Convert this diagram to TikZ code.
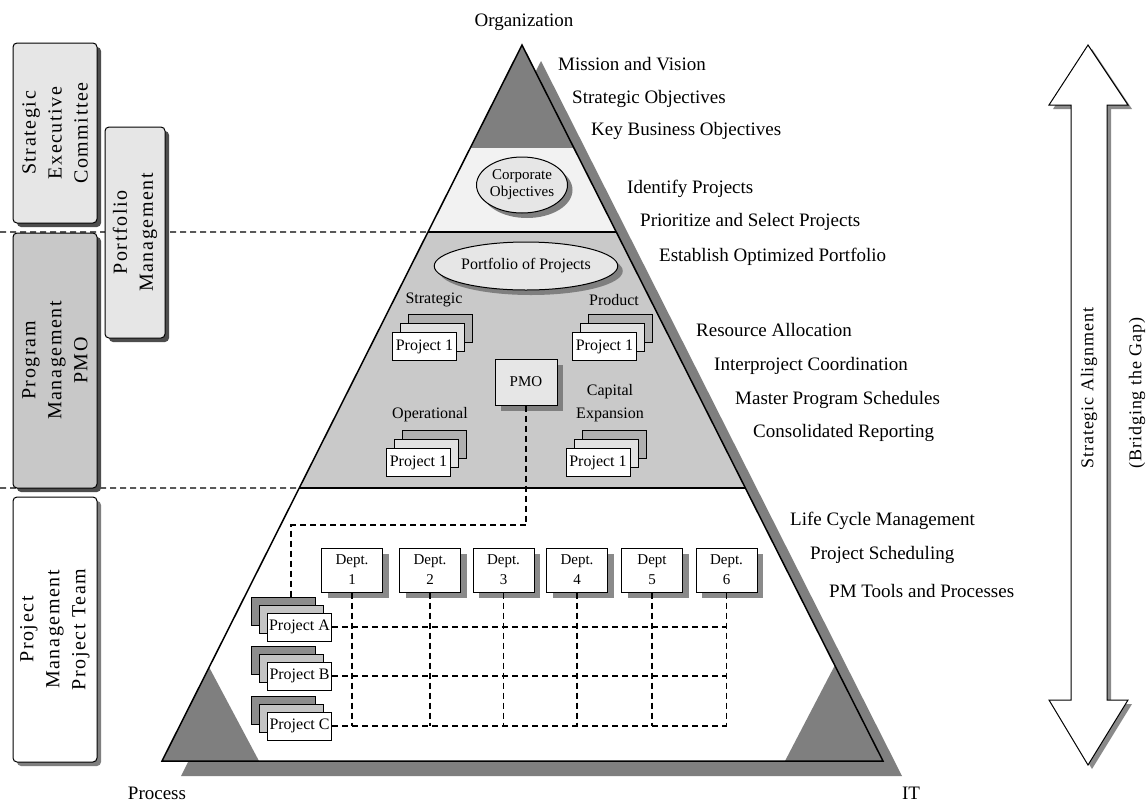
\documentclass[tikz,border=0pt]{standalone}
\usepackage{fontspec}
\setmainfont{Liberation Serif}
\usetikzlibrary{shapes.geometric,shadows,calc}

\definecolor{darkgrey}{HTML}{7F7F7F}
\definecolor{bandlight}{HTML}{F2F2F2}
\definecolor{bandmid}{HTML}{C9C9C9}
\definecolor{boxlight}{HTML}{E6E6E6}
\definecolor{boxmid}{HTML}{C8C8C8}
\definecolor{shade}{HTML}{4D4D4D}
\definecolor{softshade}{HTML}{8A8A8A}
\definecolor{cardback}{HTML}{B0B0B0}
\definecolor{cardmid}{HTML}{E2E2E2}
\definecolor{cardbackdark}{HTML}{8C8C8C}
\definecolor{cardmiddark}{HTML}{C4C4C4}

\tikzset{
  txt/.style={font=\fontsize{19}{22}\selectfont, inner sep=0pt},
  smalltxt/.style={font=\fontsize{16}{18}\selectfont, inner sep=0pt, align=center},
  sidebox/.style={draw, line width=1pt, rounded corners=4pt, inner sep=0pt},
  sidelabel/.style={rotate=90, align=center, inner sep=0pt,
    font=\fontsize{20}{26}\selectfont\addfontfeatures{LetterSpace=8}},
  dashline/.style={dash pattern=on 6pt off 4pt, line width=1.2pt},
  card/.style={draw, line width=1pt, minimum width=64pt, minimum height=28pt,
    inner sep=0pt, font=\fontsize{16}{18}\selectfont},
  deptbox/.style={draw, line width=1pt, fill=white, minimum width=61pt, minimum height=44pt,
    inner sep=0pt, align=center, font=\fontsize{15}{20}\selectfont,
    drop shadow={shadow xshift=6pt, shadow yshift=-6pt, fill=softshade, opacity=1}},
  oval/.style={ellipse, draw, line width=1pt, fill=boxlight, inner sep=0pt, align=center,
    font=\fontsize{15}{17}\selectfont,
    drop shadow={shadow xshift=5pt, shadow yshift=-5pt, fill=darkgrey, opacity=1}},
}

% a stack of three cards: name, x, y, dx, dy, back colour, middle colour, label
\newcommand\cardstack[8]{%
  \node[card, fill=#6] (#1back) at ({#2+2*(#4)},{#3+2*(#5)}) {};
  \node[card, fill=#7] (#1mid) at ({#2+(#4)},{#3+(#5)}) {};
  \node[card, fill=white] (#1) at (#2,#3) {#8};
}

\begin{document}
\begin{tikzpicture}[x=1pt,y=-1pt]
\useasboundingbox (0,0) rectangle (1146,804);
\fill[white] (0,0) rectangle (1146,804);

% ---------- pyramid ----------
\coordinate (apex) at (522,45);
\coordinate (bl) at (162,761);
\coordinate (br) at (883,761);

\fill[darkgrey] ($(apex)+(19,16)$) -- ($(bl)+(19,15)$) -- ($(br)+(19,15)$) -- cycle;

\begin{scope}
  \clip (apex) -- (bl) -- (br) -- cycle;
  \fill[white] (100,0) rectangle (950,800);
  \fill[darkgrey] (100,0) rectangle (950,148);
  \fill[bandlight] (100,148) rectangle (950,232);
  \fill[bandmid] (100,232) rectangle (950,488);
  \fill[darkgrey] (bl) -- (209,667) -- (259,761) -- cycle;
  \fill[darkgrey] (br) -- (835,665) -- (785,761) -- cycle;
\end{scope}

\coordinate (l1) at ($(apex)!0.2612!(bl)$);
\coordinate (r1) at ($(apex)!0.2612!(br)$);
\coordinate (l2) at ($(apex)!0.6187!(bl)$);
\coordinate (r2) at ($(apex)!0.6187!(br)$);

% level separators, continued to the left margin
\draw[dashline] (0,232) -- (l1);
\draw[dashline] (0,488) -- (l2);
\draw[line width=1.2pt] (l1) -- (r1);
\draw[line width=2.4pt] (l2) -- (r2);
\draw[line width=1.5pt, line join=miter] (apex) -- (bl) -- (br) -- cycle;

% ---------- left-hand bars ----------
\node[sidebox, fill=boxlight, minimum width=84pt, minimum height=180pt,
  drop shadow={shadow xshift=4pt, shadow yshift=-4pt, fill=shade, opacity=1}] (sec) at (55,133) {};
\node[sidelabel] (sectext) at (sec.center) {Strategic\\Executive\\Committee};

\node[sidebox, fill=boxlight, minimum width=60pt, minimum height=211pt,
  path picture={\fill[boxmid] (path picture bounding box.west |- 0,232) rectangle (path picture bounding box.south east);},
  drop shadow={shadow xshift=4pt, shadow yshift=-4pt, fill=shade, opacity=1}] (port) at (135,232.5) {};
\node[sidelabel] (porttext) at (port.center) {Portfolio\\Management};

\node[sidebox, fill=boxmid, minimum width=84pt, minimum height=255pt,
  drop shadow={shadow xshift=4pt, shadow yshift=-4pt, fill=shade, opacity=1}] (prog) at (55,360.5) {};
\node[sidelabel] (progtext) at (prog.center) {Program\\Management\\PMO};

\node[sidebox, fill=white, minimum width=84pt, minimum height=265pt,
  drop shadow={shadow xshift=4pt, shadow yshift=-4pt, fill=darkgrey, opacity=1}] (team) at (55,629.5) {};
\node[sidelabel] (teamtext) at (team.center) {Project\\Management\\Project Team};

% ---------- contents of the pyramid ----------
\node[oval, minimum width=91pt, minimum height=56pt] (corp) at (522,185) {Corporate\\Objectives};
\node[oval, minimum width=158pt, minimum height=48pt, font=\fontsize{16}{18}\selectfont] (folio) at (526,266) {Portfolio of Projects};

\node[smalltxt] (lstrat) at (434,300) {Strategic};
\node[smalltxt] (lprod) at (614,300) {Product};
\node[smalltxt] (loper) at (430,415) {Operational};
\node[smalltxt, font=\fontsize{16}{23}\selectfont] (lcap) at (610,403) {Capital\\Expansion};

\cardstack{strat}{424.5}{346.5}{8}{-9}{cardback}{cardmid}{Project 1}
\cardstack{prod}{604.5}{346.5}{8}{-9}{cardback}{cardmid}{Project 1}
\cardstack{oper}{418.5}{462.5}{8}{-9}{cardback}{cardmid}{Project 1}
\cardstack{capx}{598}{462.5}{8}{-9}{cardback}{cardmid}{Project 1}

\node[draw, line width=1pt, fill=boxlight, minimum width=62pt, minimum height=46pt, inner sep=0pt,
  font=\fontsize{15}{17}\selectfont,
  drop shadow={shadow xshift=6pt, shadow yshift=-6pt, fill=darkgrey, opacity=1}] (pmo) at (526,382) {PMO};

% departments
\foreach \i/\x/\lab in {1/352/Dept.,2/430/Dept.,3/503.5/Dept.,4/577/Dept.,5/652/Dept,6/726.5/Dept.}
  \node[deptbox] (d\i) at (\x,570) {\lab\\\i};

% projects
\cardstack{projA}{299.5}{627}{-8}{-8}{cardbackdark}{cardmiddark}{Project A}
\cardstack{projB}{299.5}{676}{-8}{-8}{cardbackdark}{cardmiddark}{Project B}
\cardstack{projC}{299.5}{726}{-8}{-8}{cardbackdark}{cardmiddark}{Project C}

% matrix of projects and departments
\foreach \r in {A,B,C}
  \draw[dashline] (proj\r.east) -- (proj\r.east -| d6.south);
\foreach \i in {1,...,6}
  \draw[dashline] (d\i.south) -- (d\i.south |- projC.east);

% PMO link down to the projects
\coordinate (pmoturn) at (291,525);
\draw[dashline] (pmo.south) |- (pmoturn) -- (pmoturn |- projAback.north);

% ---------- text along the right side ----------
\node[txt] (org) at (524,22) {Organization};
\node[txt, anchor=west] (t1) at (558,64) {Mission and Vision};
\node[txt, anchor=west] (t2) at (572,99) {Strategic Objectives};
\node[txt, anchor=west] (t3) at (591,131) {Key Business Objectives};
\node[txt, anchor=west] (t4) at (627,189) {Identify Projects};
\node[txt, anchor=west] (t5) at (640,222) {Prioritize and Select Projects};
\node[txt, anchor=west] (t6) at (659,257) {Establish Optimized Portfolio};
\node[txt, anchor=west] (t7) at (696,330) {Resource Allocation};
\node[txt, anchor=west] (t8) at (714,366) {Interproject Coordination};
\node[txt, anchor=west] (t9) at (735,400) {Master Program Schedules};
\node[txt, anchor=west] (t10) at (753,433) {Consolidated Reporting};
\node[txt, anchor=west] (t11) at (790,521) {Life Cycle Management};
\node[txt, anchor=west] (t12) at (810,555) {Project Scheduling};
\node[txt, anchor=west] (t13) at (829,591) {PM Tools and Processes};
\node[txt] (proc) at (157,793) {Process};
\node[txt] (it) at (911,793) {IT};

% ---------- strategic alignment arrow ----------
\fill[softshade] (1092,49) -- (1132,109) -- (1111,109) -- (1111,704) -- (1132,704) -- (1092,769)
  -- (1053,704) -- (1075,704) -- (1075,109) -- (1053,109) -- cycle;
\draw[line width=1pt, fill=white, line join=miter] (1088,45) -- (1128,105) -- (1107,105) -- (1107,700)
  -- (1128,700) -- (1088,765) -- (1049,700) -- (1071,700) -- (1071,105) -- (1049,105) -- cycle;
\node[rotate=90, inner sep=0pt, font=\fontsize{18}{20}\selectfont\addfontfeatures{LetterSpace=5}] (align) at (1089,388) {Strategic Alignment};
\node[rotate=90, inner sep=0pt, font=\fontsize{18}{20}\selectfont\addfontfeatures{LetterSpace=5}] (gap) at (1137,393) {(Bridging the Gap)};
\end{tikzpicture}
\end{document}
